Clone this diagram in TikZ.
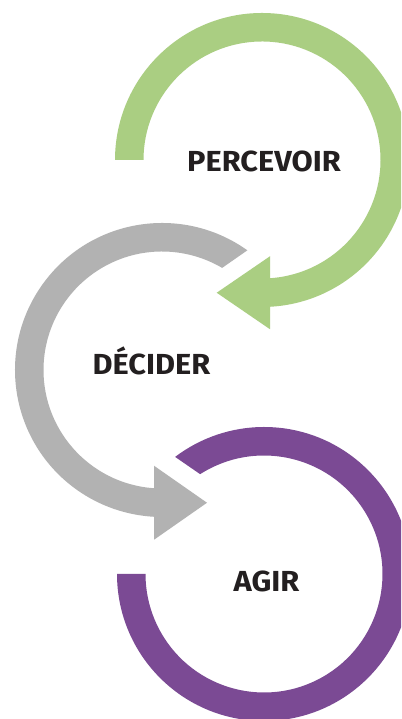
\documentclass[tikz,border=0pt]{standalone}
\usepackage{fontspec}
\setmainfont{Fira Sans}
\usetikzlibrary{calc}
\definecolor{cgreen}{RGB}{170,206,130}
\definecolor{cgray}{RGB}{178,178,178}
\definecolor{cpurple}{RGB}{123,74,148}
\definecolor{ctext}{RGB}{35,31,32}
\begin{document}
\begin{tikzpicture}[x=1pt,y=1pt,
  lbl/.style={anchor=base,inner sep=0pt,text=ctext,xscale=1.06,transform shape,
    font=\fontsize{29}{29}\selectfont\bfseries}]
\useasboundingbox (0,0) rectangle (401,719);
\fill[white] (0,0) rectangle (401,719);
\clip (0,0) rectangle (401,719);
% centres
\coordinate (cg) at (262,559);
\coordinate (cy) at (162,349);
\coordinate (cp) at (264,145);
% green arc: left end, clockwise over top to bottom arrow pointing left
\fill[cgreen] ($(cg)+(180:147)$) arc[start angle=180,end angle=-86.88,radius=147]
  -- (270,389.75) -- (216.7,426.25) -- (270,462.75)
  -- ($(cg)+(-86.13:118.5)$) arc[start angle=-86.13,end angle=180,radius=118.5] -- cycle;
% gray arc
\fill[cgray] ($(cy)+(54.5:147)$) arc[start angle=54.5,end angle=266.88,radius=147]
  -- (154,179.25) -- (207,216.25) -- (154,253.25)
  -- ($(cy)+(266.13:118.5)$) arc[start angle=266.13,end angle=59.5,radius=118.5] -- cycle;
% purple arc
\fill[cpurple] ($(cp)+(180:147)$) arc[start angle=180,end angle=487.2,radius=147]
  -- ($(cp)+(122.6:118.5)$) arc[start angle=482.6,end angle=180,radius=118.5] -- cycle;
% labels
\node[lbl] (perc) at (264,547.3) {PERCEVOIR};
\node[lbl] (dec) at (151.5,344.7) {DÉCIDER};
\node[lbl] (agir) at (266.5,127.3) {AGIR};
\end{tikzpicture}
\end{document}
